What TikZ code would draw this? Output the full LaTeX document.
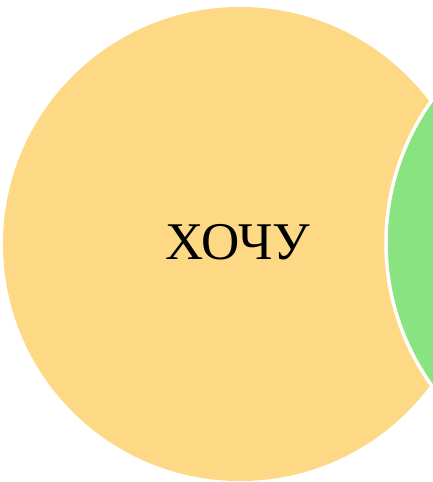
\documentclass[tikz,border=0pt]{standalone}
\usepackage{fontspec}
\setmainfont{Liberation Serif}
\definecolor{wantyellow}{HTML}{FDD985}
\definecolor{cangreen}{HTML}{89E380}
\tikzset{
  setcircle/.style={circle, inner sep=0pt, outer sep=0pt},
  label text/.style={font=\fontsize{53}{63}\selectfont, text=black}
}
\begin{document}
\begin{tikzpicture}[x=1pt,y=1pt]
\useasboundingbox (0,0) rectangle (433,482);
\clip (0,0) rectangle (433,482);
\fill[white] (0,0) rectangle (433,482);
\node[setcircle, fill=wantyellow, minimum size=474pt] (want) at (240,238) {};
\node[setcircle, fill=cangreen, draw=white, line width=3.5pt, minimum size=490pt] (can) at (631,239) {};
\node[label text] (wanttext) at (238,240) {ХОЧУ};
\end{tikzpicture}
\end{document}
